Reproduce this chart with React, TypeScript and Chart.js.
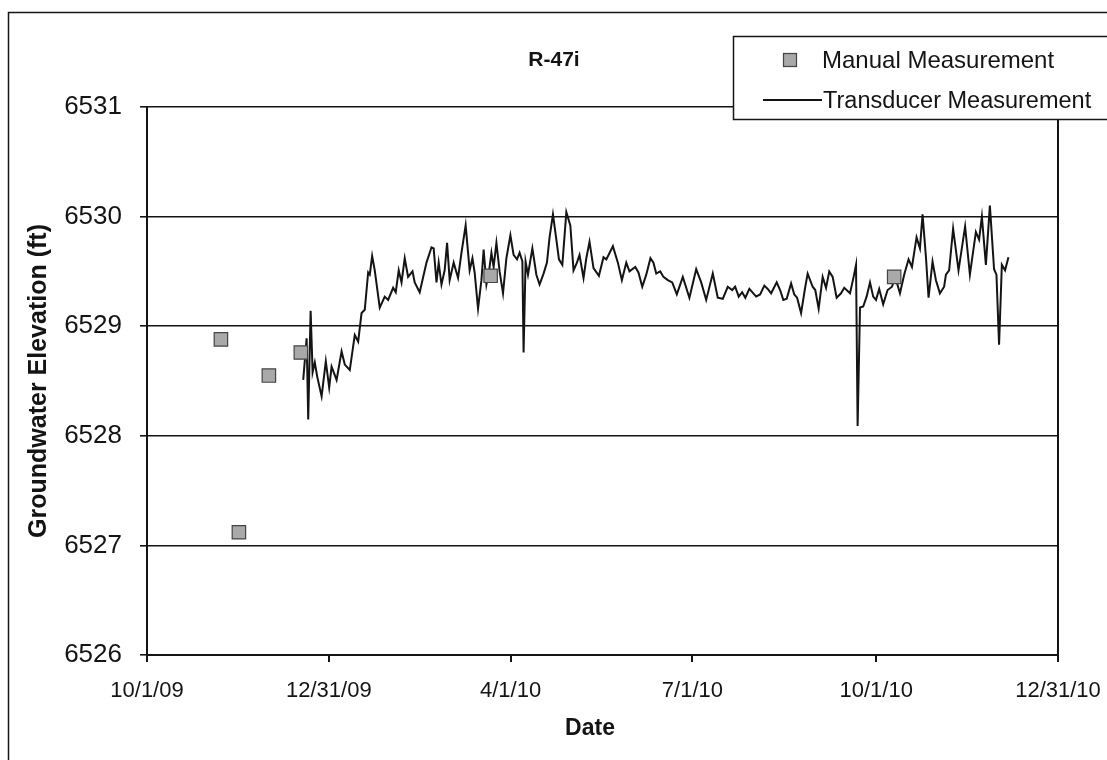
import React, { useEffect, useRef } from "react";
import { Chart, registerables } from "chart.js";

Chart.register(...registerables);

// ---- data (days counted from 10/1/09) ----
const tickLabels = ["10/1/09", "12/31/09", "4/1/10", "7/1/10", "10/1/10", "12/31/10"];
const yTicks = [6526, 6527, 6528, 6529, 6530, 6531];

const manualDates = ["11/7/09", "11/16/09", "12/1/09", "12/17/09", "3/22/10", "10/10/10"];
const manualElev = [6528.88, 6527.12, 6528.55, 6528.76, 6529.46, 6529.45];

const transducerDay = [
  78.2, 79.9, 80.7, 81.9, 82.9, 84.0, 85.2, 87.4, 89.5, 91.2, 92.4, 94.9, 97.4, 99.0, 101.5, 104.0, 105.7, 107.4, 109.0, 110.7,
  111.5, 112.7, 114.0, 116.5, 119.0, 120.7, 123.2, 124.5, 126.0, 127.4, 129.0, 130.7, 132.9, 134.0, 136.5, 139.9, 142.4, 143.5, 144.9, 146.0,
  147.4, 149.0, 150.2, 151.5,
  153.5, 155.7, 157.4, 159.5, 161.5, 162.9, 164.0, 165.7, 167.4, 168.5, 169.9, 171.2, 172.4, 173.5, 174.9, 176.5, 178.2, 179.9, 181.9, 183.5,
  185.2, 186.5, 187.9, 188.5, 189.5, 190.7, 192.9, 194.9, 196.5, 198.5, 200.2, 201.5, 203.2, 204.9, 206.2, 207.9, 209.9, 211.9, 213.5, 215.2,
  216.5, 218.5, 219.9, 221.5,
  223.5, 226.2, 228.5, 229.9, 233.2, 235.7, 237.7, 239.9, 241.5, 244.4, 246.0, 247.9, 249.9, 252.0, 253.5, 254.9, 256.9, 258.5, 260.7, 262.9,
  265.2, 268.2, 271.5, 274.9, 277.4, 279.9, 283.2, 285.7, 288.2, 290.7, 292.9, 294.4, 296.2, 297.9,
  299.5, 301.5, 304.9, 306.9, 309.0, 310.7, 312.4, 315.2, 316.9, 318.5, 320.2, 322.4, 324.0, 325.4, 327.4, 329.5, 330.7, 333.2, 334.5, 336.2,
  338.2, 339.9, 341.5, 343.2, 345.2, 347.4, 349.0, 351.9, 353.7, 354.9, 355.7, 356.9, 358.5, 360.2, 361.9, 363.5, 364.9, 366.5, 368.5, 370.7,
  372.9, 374.5, 376.9, 379.0, 381.2, 382.9, 385.2, 386.9, 388.2, 389.9, 391.2, 393.2, 394.9, 396.9, 399.0, 399.9, 401.5, 403.5, 406.2, 409.5,
  411.9, 414.9, 416.5, 417.9, 419.9, 421.9, 424.0, 425.2, 426.5, 427.9, 429.5, 431.2,
];

const transducerElev = [
  6528.51, 6528.89, 6528.15, 6529.14, 6528.58, 6528.67, 6528.54, 6528.36, 6528.68, 6528.44, 6528.63, 6528.51, 6528.77, 6528.65, 6528.6, 6528.92, 6528.86, 6529.12, 6529.15, 6529.49,
  6529.47, 6529.64, 6529.51, 6529.17, 6529.27, 6529.24, 6529.35, 6529.31, 6529.51, 6529.4, 6529.62, 6529.45, 6529.5, 6529.4, 6529.31, 6529.58, 6529.72, 6529.71, 6529.4, 6529.58,
  6529.38, 6529.51, 6529.76, 6529.42,
  6529.58, 6529.44, 6529.67, 6529.92, 6529.51, 6529.62, 6529.49, 6529.16, 6529.42, 6529.7, 6529.38, 6529.5, 6529.67, 6529.54, 6529.76, 6529.5, 6529.3, 6529.62, 6529.83, 6529.65,
  6529.61, 6529.67, 6529.59, 6528.76, 6529.59, 6529.47, 6529.71, 6529.47, 6529.38, 6529.48, 6529.58, 6529.81, 6530.02, 6529.79, 6529.61, 6529.56, 6530.04, 6529.92, 6529.51, 6529.58,
  6529.65, 6529.44, 6529.62, 6529.77,
  6529.53, 6529.46, 6529.63, 6529.61, 6529.73, 6529.58, 6529.42, 6529.58, 6529.5, 6529.54, 6529.49, 6529.36, 6529.47, 6529.62, 6529.58, 6529.48, 6529.5, 6529.45, 6529.42, 6529.4,
  6529.29, 6529.45, 6529.26, 6529.52, 6529.4, 6529.24, 6529.48, 6529.26, 6529.25, 6529.36, 6529.33, 6529.36, 6529.27, 6529.31,
  6529.26, 6529.34, 6529.27, 6529.29, 6529.37, 6529.34, 6529.3, 6529.4, 6529.33, 6529.24, 6529.25, 6529.39, 6529.29, 6529.26, 6529.12, 6529.36, 6529.48, 6529.36, 6529.33, 6529.16,
  6529.45, 6529.35, 6529.5, 6529.45, 6529.26, 6529.3, 6529.35, 6529.3, 6529.45, 6529.56, 6528.09, 6529.17, 6529.18, 6529.27, 6529.4, 6529.27, 6529.24, 6529.34, 6529.2, 6529.33,
  6529.36, 6529.45, 6529.3, 6529.47, 6529.61, 6529.54, 6529.81, 6529.71, 6530.02, 6529.63, 6529.26, 6529.59, 6529.42, 6529.3, 6529.36, 6529.47, 6529.51, 6529.89, 6529.51, 6529.91,
  6529.47, 6529.86, 6529.79, 6530.0, 6529.56, 6530.1, 6529.52, 6529.47, 6528.83, 6529.56, 6529.51, 6529.63,
];

const seriesLabels = ["Manual Measurement", "Transducer Measurement"];
const chartTitle = "R-47i";
const xTitle = "Date";
const yTitle = "Groundwater Elevation (ft)";

// ---- helpers ----
const BASE = Date.UTC(2009, 9, 1);
function dayOf(label: string): number {
  const [m, d, y] = label.split("/").map(Number);
  return (Date.UTC(2000 + y, m - 1, d) - BASE) / 86400000;
}
const tickDays = tickLabels.map(dayOf);

const FONT = '"Liberation Sans", Arial, Helvetica, sans-serif';
const INK = "#141414";

const decorPlugin = {
  id: "decor",
  afterDraw(chart: any) {
    const ctx = chart.ctx as CanvasRenderingContext2D;
    const ca = chart.chartArea;
    ctx.save();
    // right border of plot area
    ctx.strokeStyle = INK;
    ctx.lineWidth = 2;
    ctx.beginPath();
    ctx.moveTo(ca.right, ca.top);
    ctx.lineTo(ca.right, ca.bottom);
    ctx.stroke();
    // outer frame
    ctx.lineWidth = 1.5;
    ctx.strokeRect(8.5, 12.5, 1200, 800);

    // titles
    ctx.fillStyle = INK;
    ctx.textAlign = "center";
    ctx.textBaseline = "middle";
    ctx.font = `bold 21px ${FONT}`;
    ctx.fillText(chartTitle, 554, 60);
    ctx.font = `bold 23px ${FONT}`;
    ctx.fillText(xTitle, 590, 729);
    ctx.save();
    ctx.translate(39, 381);
    ctx.rotate(-Math.PI / 2);
    ctx.font = `bold 25px ${FONT}`;
    ctx.fillText(yTitle, 0, 0);
    ctx.restore();

    // legend
    ctx.fillStyle = "#fff";
    ctx.fillRect(733, 36, 420, 83);
    ctx.strokeStyle = INK;
    ctx.lineWidth = 1.5;
    ctx.strokeRect(733.5, 36.5, 420, 83);
    ctx.fillStyle = "#a9a9a9";
    ctx.fillRect(783.5, 53.5, 13, 13);
    ctx.strokeStyle = "#444";
    ctx.lineWidth = 1.2;
    ctx.strokeRect(783.5, 53.5, 13, 13);
    ctx.strokeStyle = INK;
    ctx.lineWidth = 1.8;
    ctx.beginPath();
    ctx.moveTo(763, 100);
    ctx.lineTo(822, 100);
    ctx.stroke();
    ctx.fillStyle = INK;
    ctx.textAlign = "left";
    ctx.font = `24px ${FONT}`;
    ctx.fillText(chart.data.datasets[0].label, 822, 61);
    ctx.font = `23.5px ${FONT}`;
    ctx.fillText(chart.data.datasets[1].label, 823, 102);
    ctx.restore();
  },
};

export default function App() {
  const ref = useRef<HTMLCanvasElement | null>(null);

  useEffect(() => {
    if (!ref.current) return;
    const manualPts = manualDates.map((d, i) => ({ x: dayOf(d), y: manualElev[i] }));
    const transPts = transducerDay.map((d, i) => ({ x: d, y: transducerElev[i] }));

    const chart = new Chart(ref.current, {
      type: "scatter",
      data: {
        datasets: [
          {
            label: seriesLabels[0],
            data: manualPts,
            pointStyle: "rect",
            pointRadius: 9.5,
            backgroundColor: "#a9a9a9",
            borderColor: "#444",
            borderWidth: 1.2,
            showLine: false,
            order: 0,
          },
          {
            label: seriesLabels[1],
            data: transPts,
            showLine: true,
            pointRadius: 0,
            borderColor: INK,
            borderWidth: 2,
            tension: 0,
            order: 1,
          },
        ],
      },
      options: {
        responsive: false,
        animation: false,
        devicePixelRatio: 1,
        layout: { padding: { top: 107, right: 49, left: 0, bottom: 0 } },
        plugins: { legend: { display: false }, tooltip: { enabled: false }, title: { display: false } },
        scales: {
          x: {
            type: "linear",
            min: tickDays[0],
            max: tickDays[tickDays.length - 1],
            afterBuildTicks: (scale: any) => {
              scale.ticks = tickDays.map((v) => ({ value: v }));
            },
            afterFit: (scale: any) => {
              scale.height = 105;
              scale.paddingLeft = 0;
              scale.paddingRight = 0;
            },
            ticks: {
              autoSkip: false,
              maxRotation: 0,
              padding: 16,
              color: INK,
              font: { family: FONT, size: 22 },
              callback: (v: any) => {
                const i = tickDays.indexOf(Number(v));
                return i >= 0 ? tickLabels[i] : "";
              },
            },
            grid: { drawOnChartArea: false, drawTicks: true, tickLength: 7, color: INK, lineWidth: 2 },
            border: { display: true, color: INK, width: 2 },
          },
          y: {
            type: "linear",
            min: yTicks[0],
            max: yTicks[yTicks.length - 1],
            afterBuildTicks: (scale: any) => {
              scale.ticks = yTicks.map((v) => ({ value: v }));
            },
            afterFit: (scale: any) => {
              scale.width = 147;
              scale.paddingTop = 0;
              scale.paddingBottom = 0;
            },
            ticks: {
              padding: 18,
              color: INK,
              font: { family: FONT, size: 26 },
              callback: (v: any) => String(v),
            },
            grid: { color: INK, lineWidth: 1.6, tickLength: 7 },
            border: { display: true, color: INK, width: 2 },
          },
        },
      },
      plugins: [decorPlugin],
    } as any);

    return () => chart.destroy();
  }, []);

  return (
    <div style={{ position: "fixed", left: 0, top: 0, width: 1107, height: 760, background: "#fff" }}>
      <canvas ref={ref} width={1107} height={760} style={{ display: "block" }} />
    </div>
  );
}
